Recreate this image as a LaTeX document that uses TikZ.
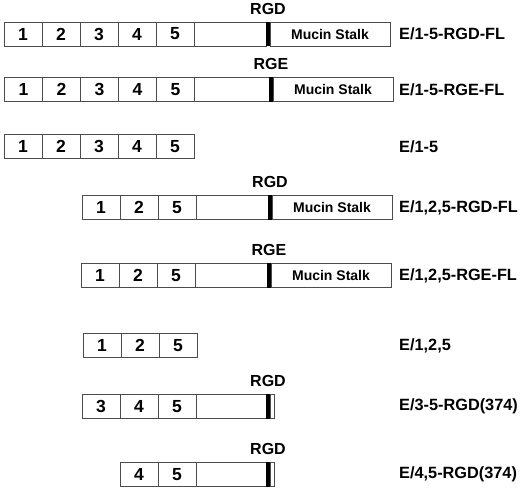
\documentclass[tikz,border=0pt]{standalone}
\usepackage{fontspec}
\setmainfont{Liberation Sans}
\usetikzlibrary{positioning}

\begin{document}
\begin{tikzpicture}[x=1pt,y=-1pt,node distance=0pt,
  dom/.style={draw=black!70,line width=0.7pt,minimum width=38pt,minimum height=24pt,inner sep=0pt,outer sep=0pt,font=\fontsize{17.5}{17.5}\selectfont\bfseries},
  spacer/.style={dom,minimum width=#1},
  sitebar/.style={fill=black,minimum width=4pt,minimum height=24.7pt,inner sep=0pt,outer sep=0pt},
  stub/.style={dom,minimum width=4pt},
  mucin/.style={dom,minimum width=120pt,font=\fontsize{14}{14}\selectfont\bfseries},
  motif/.style={inner sep=0pt,font=\fontsize{16}{16}\selectfont\bfseries},
  construct/.style={anchor=west,inner sep=0pt,font=\fontsize{16.3}{16.3}\selectfont\bfseries}]
\useasboundingbox (0,0) rectangle (520,491);
% E/1-5-RGD-FL
\node[dom,anchor=west] (a1) at (4,34) {1};
\node[dom,right=of a1] (a2) {2};
\node[dom,right=of a2] (a3) {3};
\node[dom,right=of a3] (a4) {4};
\node[dom,right=of a4] (a5) {5};
\node[spacer=72pt,right=of a5] (a6) {};
\node[sitebar,right=of a6] (a7) {};
\node[mucin,right=of a7] (a8) {Mucin Stalk};
\node[motif,above=7pt of a7] (am) {RGD};
\node[construct] (an) at (399,34) {E/1-5-RGD-FL};
% E/1-5-RGE-FL
\node[dom,anchor=west] (b1) at (4.5,89.5) {1};
\node[dom,right=of b1] (b2) {2};
\node[dom,right=of b2] (b3) {3};
\node[dom,right=of b3] (b4) {4};
\node[dom,right=of b4] (b5) {5};
\node[spacer=74.5pt,right=of b5] (b6) {};
\node[sitebar,right=of b6] (b7) {};
\node[mucin,right=of b7] (b8) {Mucin Stalk};
\node[motif,above=7pt of b7] (bm) {RGE};
\node[construct] (bn) at (399,89.5) {E/1-5-RGE-FL};
% E/1-5
\node[dom,anchor=west] (c1) at (4,146.5) {1};
\node[dom,right=of c1] (c2) {2};
\node[dom,right=of c2] (c3) {3};
\node[dom,right=of c3] (c4) {4};
\node[dom,right=of c4] (c5) {5};
\node[construct] (cn) at (399,146.5) {E/1-5};
% E/1,2,5-RGD-FL
\node[dom,anchor=west] (d1) at (82,207.5) {1};
\node[dom,right=of d1] (d2) {2};
\node[dom,right=of d2] (d3) {5};
\node[spacer=72pt,right=of d3] (d4) {};
\node[sitebar,right=of d4] (d5) {};
\node[mucin,right=of d5] (d6) {Mucin Stalk};
\node[motif,above=7pt of d5] (dm) {RGD};
\node[construct] (dn) at (399,207.5) {E/1,2,5-RGD-FL};
% E/1,2,5-RGE-FL
\node[dom,anchor=west] (e1) at (81,275.5) {1};
\node[dom,right=of e1] (e2) {2};
\node[dom,right=of e2] (e3) {5};
\node[spacer=72pt,right=of e3] (e4) {};
\node[sitebar,right=of e4] (e5) {};
\node[mucin,right=of e5] (e6) {Mucin Stalk};
\node[motif,above=7pt of e5] (em) {RGE};
\node[construct] (en) at (399,275.5) {E/1,2,5-RGE-FL};
% E/1,2,5
\node[dom,anchor=west] (f1) at (83,345.5) {1};
\node[dom,right=of f1] (f2) {2};
\node[dom,right=of f2] (f3) {5};
\node[construct] (fn) at (399,345.5) {E/1,2,5};
% E/3-5-RGD(374)
\node[dom,anchor=west] (g1) at (82,406.5) {3};
\node[dom,right=of g1] (g2) {4};
\node[dom,right=of g2] (g3) {5};
\node[spacer=70pt,right=of g3] (g4) {};
\node[sitebar,right=of g4] (g5) {};
\node[stub,right=of g5] (g6) {};
\node[motif,above=7pt of g5] (gm) {RGD};
\node[construct] (gn) at (399,406.5) {E/3-5-RGD(374)};
% E/4,5-RGD(374)
\node[dom,anchor=west] (h1) at (120,474.5) {4};
\node[dom,right=of h1] (h2) {5};
\node[spacer=70pt,right=of h2] (h3) {};
\node[sitebar,right=of h3] (h4) {};
\node[stub,right=of h4] (h5) {};
\node[motif,above=7pt of h4] (hm) {RGD};
\node[construct] (hn) at (399,474.5) {E/4,5-RGD(374)};
\end{tikzpicture}
\end{document}
